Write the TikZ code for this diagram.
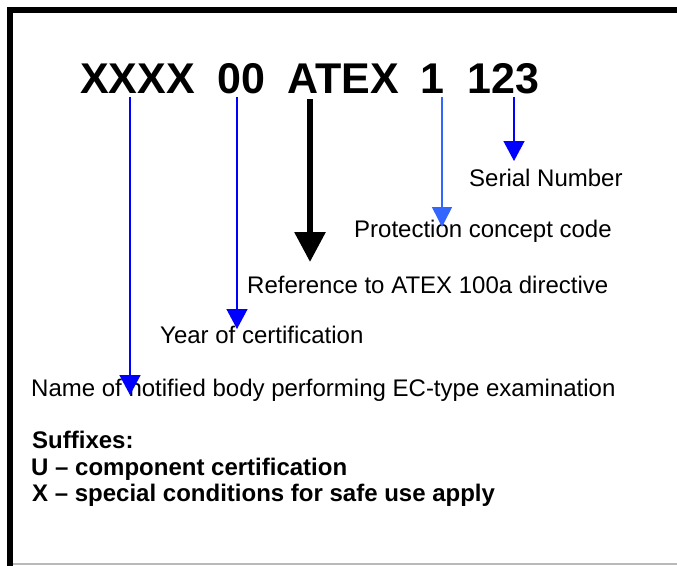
\documentclass[tikz,border=0pt]{standalone}
\usepackage{fontspec}
\setmainfont{Liberation Sans}
\usetikzlibrary{arrows.meta}
\definecolor{arrblue}{HTML}{0000FF}
\definecolor{lightarr}{HTML}{3366FF}
\tikzset{
  code/.style={anchor=base west, inner sep=0pt, font=\fontsize{43}{50}\selectfont\bfseries},
  lbl/.style={anchor=base west, inner sep=0pt, font=\fontsize{24}{27}\selectfont},
  blbl/.style={anchor=base west, inner sep=0pt, font=\fontsize{24}{27}\selectfont\bfseries},
  bluearr/.style={draw=arrblue, line width=1.5pt, -{Triangle[length=20pt,width=21pt]}, arrblue},
  lightbluearr/.style={draw=lightarr, line width=1.5pt, -{Triangle[length=20pt,width=20pt]}, lightarr},
  blackarr/.style={draw=black, line width=6pt, -{Triangle[length=30pt,width=30pt]}},
}
\begin{document}
\begin{tikzpicture}[x=1pt, y=-1pt]
\useasboundingbox (0,0) rectangle (677,565);
% frame
\draw[line width=6pt, line join=miter] (10,566) -- (10,10) -- (678,10);
\draw[gray!55, line width=1.5pt] (13,564) -- (678,564);
% code
\node[code] (xxxx) at (80,93.5) {XXXX};
\node[code] (yy) at (217,93.5) {00};
\node[code] (atex) at (287,93.5) {ATEX};
\node[code] (one) at (420,93.5) {1};
\node[code] (num) at (467,93.5) {123};
% labels
\node[lbl] (serial) at (469,186) {Serial Number};
\node[lbl] (prot) at (354,237) {Protection concept code};
\node[lbl] (ref) at (247,293) {Reference to ATEX 100a directive};
\node[lbl] (year) at (160,343) {Year of certification};
\node[lbl] (name) at (31,396.5) {Name of notified body performing EC-type examination};
\node[blbl] (suf) at (32,448) {Suffixes:};
\node[blbl] (sufu) at (31,475) {U – component certification};
\node[blbl] (sufx) at (32,501.5) {X – special conditions for safe use apply};
% arrow ends
\coordinate (a1) at (130,97);  \coordinate (b1) at (130,395);
\coordinate (a2) at (237,97);  \coordinate (b2) at (237,329);
\coordinate (a3) at (310,99);  \coordinate (b3) at (310,262);
\coordinate (a4) at (442,97);  \coordinate (b4) at (442,227);
\coordinate (a5) at (514,97);  \coordinate (b5) at (514,161);
\draw[bluearr] (a1) -- (b1);
\draw[bluearr] (a2) -- (b2);
\draw[blackarr] (a3) -- (b3);
\draw[lightbluearr] (a4) -- (b4);
\draw[bluearr] (a5) -- (b5);
\end{tikzpicture}
\end{document}
